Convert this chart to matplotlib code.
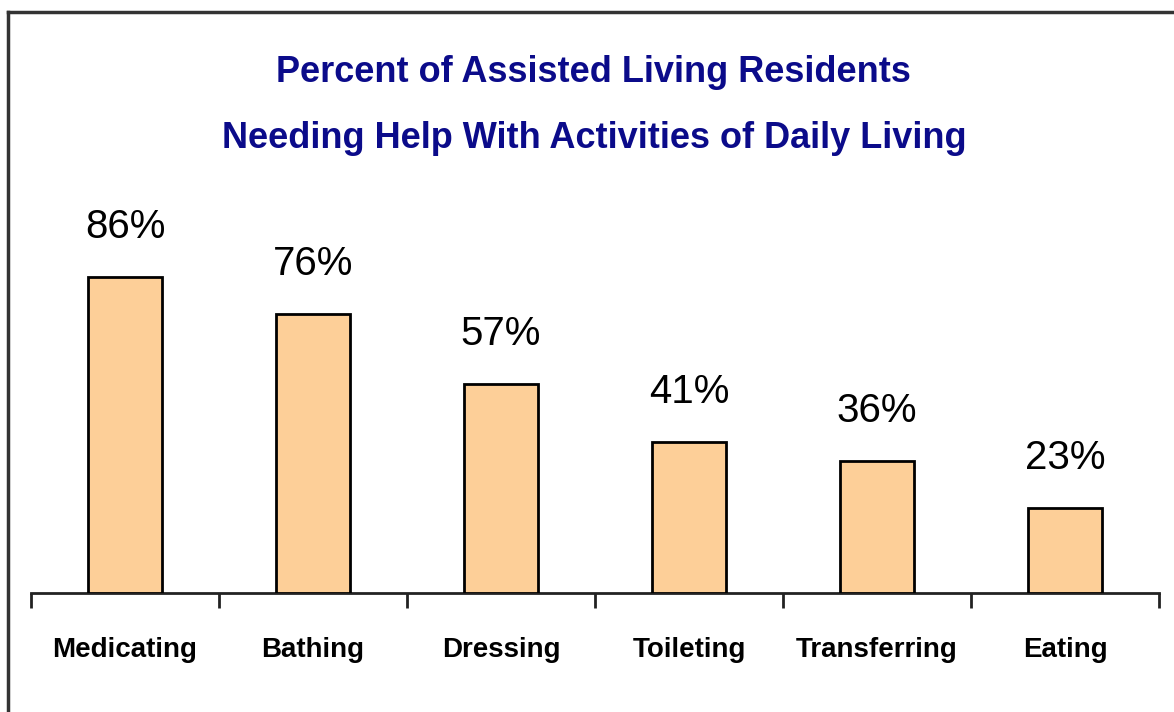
import matplotlib
matplotlib.use("Agg")
import matplotlib.pyplot as plt
from matplotlib.lines import Line2D

categories = ["Medicating", "Bathing", "Dressing", "Toileting", "Transferring", "Eating"]
values = [86, 76, 57, 41, 36, 23]
title_lines = ["Percent of Assisted Living Residents",
               "Needing Help With Activities of Daily Living"]

BAR_COLOR = "#FDCF98"
NAVY = "#0B0B8A"
FONT = ["Liberation Sans", "DejaVu Sans"]

fig = plt.figure(figsize=(11.74, 7.12), dpi=100)
fig.patch.set_facecolor("white")

# axes placed so baseline sits at y~593 px and span matches category ticks
ax = fig.add_axes([31 / 1174, (712 - 593) / 712, 1128 / 1174, 367.4 / 712])
x = list(range(len(categories)))
ax.bar(x, values, width=0.39, color=BAR_COLOR, edgecolor="black", linewidth=2, zorder=3)
ax.set_xlim(-0.5, len(categories) - 0.5)
ax.set_ylim(0, 100)

for xi, v in zip(x, values):
    ax.annotate(f"{v}%", (xi, v), xytext=(0, 36), textcoords="offset points",
                ha="center", va="center", fontsize=29, family=FONT, color="black")

for s in ["top", "left", "right"]:
    ax.spines[s].set_visible(False)
ax.spines["bottom"].set_linewidth(2)
ax.spines["bottom"].set_color("#222222")
ax.set_yticks([])
ax.set_xticks(x)
ax.set_xticklabels(categories, fontsize=20, fontweight="bold", family=FONT)
ax.set_xticks([i - 0.5 for i in range(len(categories) + 1)], minor=True)
ax.tick_params(axis="x", which="major", length=0, pad=32)
ax.tick_params(axis="x", which="minor", length=11, width=2, direction="out", color="#222222")
ax.patch.set_alpha(0)

fig.text(593 / 1174, 1 - 73 / 712, title_lines[0], ha="center", va="center",
         fontsize=26, fontweight="bold", color=NAVY, family=FONT)
fig.text(594 / 1174, 1 - 139 / 712, title_lines[1], ha="center", va="center",
         fontsize=26, fontweight="bold", color=NAVY, family=FONT)

# frame lines (top and left) around the chart
fig.add_artist(Line2D([8 / 1174, 1.0], [1 - 12 / 712, 1 - 12 / 712],
                      transform=fig.transFigure, color="#333333", linewidth=2.5))
fig.add_artist(Line2D([8 / 1174, 8 / 1174], [0, 1 - 12 / 712],
                      transform=fig.transFigure, color="#333333", linewidth=2.5))

fig.savefig("out.png", dpi=100)
